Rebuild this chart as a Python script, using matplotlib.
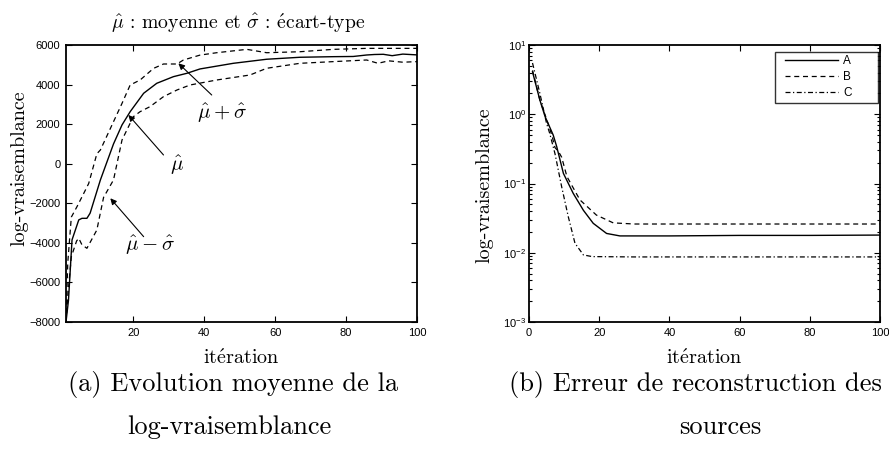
import numpy as np
import matplotlib
matplotlib.use("Agg")
import matplotlib.pyplot as plt
from matplotlib.ticker import LogLocator, NullFormatter, FixedLocator
from matplotlib.legend_handler import HandlerLine2D

plt.rcParams['font.family'] = ['Liberation Sans', 'DejaVu Sans']
plt.rcParams['mathtext.fontset'] = 'cm'
plt.rcParams['mathtext.rm'] = 'Liberation Sans'
plt.rcParams['mathtext.it'] = 'Liberation Sans:italic'
plt.rcParams['mathtext.bf'] = 'Liberation Sans:bold'
plt.rcParams['axes.unicode_minus'] = True

# ---------------- data: (a) mean log-likelihood ----------------
it_mu = [1, 1.7, 2.7, 4.6, 5.5, 6.9, 7.8, 10.7, 14.4, 16.8, 19.1, 22.9, 26.6,
         31.3, 35.1, 38.8, 48.2, 57.6, 67, 76.4, 82, 85.8, 88, 90.5, 93, 96, 100]
mu = [-8000, -6900, -3850, -2840, -2760, -2760, -2500, -820, 1000, 1960, 2630,
      3560, 4065, 4400, 4570, 4790, 5075, 5280, 5380, 5410, 5420, 5495, 5520,
      5530, 5460, 5540, 5500]

it_up = [1, 1.5, 2.5, 4.1, 6, 7.4, 9.7, 10.7, 16.8, 19.1, 21.9, 25.7, 28.5,
         32.3, 34.1, 38.8, 43.5, 52, 57.6, 67, 76.4, 85.8, 100]
up = [-8000, -5000, -2700, -2170, -1500, -1000, 500, 695, 3050, 3980, 4230,
      4820, 5040, 5040, 5240, 5490, 5610, 5780, 5610, 5660, 5780, 5830, 5830]

it_lo = [1, 1.6, 2.5, 4.0, 4.6, 5.5, 6.9, 9.7, 11.6, 14.4, 16.8, 20, 21.9,
         24.7, 28.5, 32.3, 36, 43.5, 52.9, 57.6, 67, 76.4, 85.8, 89, 92, 96, 100]
lo = [-8000, -6500, -4700, -3900, -3770, -4100, -4275, -3350, -1700, -820,
      1200, 2377, 2630, 2885, 3390, 3726, 3979, 4231, 4484, 4823, 5075, 5160,
      5242, 5075, 5200, 5130, 5160]

yticks_a = [-8000, -6000, -4000, -2000, 0, 2000, 4000, 6000]
xticks_a = [20, 40, 60, 80, 100]

# ---------------- data: (b) reconstruction error ----------------
it_A = [1, 3.1, 4.6, 6.9, 7.9, 9.8, 12.6, 15.5, 18.3, 22.1, 25.9, 40, 60, 80, 100]
err_A = [4.1, 1.6, 0.92, 0.5, 0.34, 0.14, 0.072, 0.041, 0.0266, 0.019, 0.0175,
         0.0175, 0.0178, 0.0178, 0.018]

it_B = [1, 3.1, 5, 6.5, 7.4, 8.4, 9.3, 10.8, 14.5, 19.2, 24, 30, 60, 100]
err_B = [4.3, 1.6, 0.85, 0.5, 0.33, 0.29, 0.24, 0.126, 0.058, 0.035, 0.027,
         0.026, 0.026, 0.026]

it_C = [1, 3.1, 5, 5.9, 7.4, 9.3, 11.2, 13.1, 15.5, 18, 30, 60, 100]
err_C = [5.5, 2.0, 0.74, 0.53, 0.27, 0.09, 0.033, 0.0137, 0.0093, 0.0088,
         0.0087, 0.0087, 0.0087]

series_names = ['A', 'B', 'C']
xticks_b = [0, 20, 40, 60, 80, 100]
yticks_b = [1e-3, 1e-2, 1e-1, 1e0, 1e1]
ytick_labels_b = [r'$10^{-3}$', r'$10^{-2}$', r'$10^{-1}$', r'$10^{0}$', r'$10^{1}$']

# ---------------- figure ----------------
W, H = 889, 454
fig = plt.figure(figsize=(W / 100, H / 100), dpi=100)

def frac(x0, y0, x1, y1):
    return [x0 / W, 1 - y1 / H, (x1 - x0) / W, (y1 - y0) / H]

ax1 = fig.add_axes(frac(66, 45, 417, 322))
ax2 = fig.add_axes(frac(529, 45, 880, 322))

serif = 'cmr10'
tick_fs = 8
lab_fs = 14.5
ann_fs = 15

for ax in (ax1, ax2):
    for s in ax.spines.values():
        s.set_linewidth(1.3)
    ax.tick_params(which='both', direction='in', top=True, right=True,
                   labelsize=tick_fs, width=0.8)
    ax.tick_params(which='major', length=4, pad=4)
    ax.tick_params(which='minor', length=2)

# (a)
ax1.plot(it_mu, mu, 'k-', lw=1.0)
ax1.plot(it_up, up, 'k--', lw=0.9, dashes=(4, 3))
ax1.plot(it_lo, lo, 'k--', lw=0.9, dashes=(4, 3))
ax1.set_xlim(1, 100)
ax1.set_ylim(-8000, 6000)
ax1.set_xticks(xticks_a)
ax1.set_yticks(yticks_a)

arrow = dict(arrowstyle='-|>', lw=0.8, color='k', mutation_scale=9,
             shrinkA=0, shrinkB=0)
ax1.annotate('', xy=(32.7, 5075), xytext=(42.1, 3473), arrowprops=arrow)
ax1.annotate('', xy=(18.6, 2463), xytext=(28.5, 442), arrowprops=arrow)
ax1.annotate('', xy=(13.5, -1747), xytext=(22.9, -3687), arrowprops=arrow)
ax1.text(44.9, 2564, r'$\hat{\mu}+\hat{\sigma}$', fontsize=ann_fs,
         ha='center', va='center')
ax1.text(32.3, -64, r'$\hat{\mu}$', fontsize=ann_fs, ha='center', va='center')
ax1.text(24.7, -4106, r'$\hat{\mu}-\hat{\sigma}$', fontsize=ann_fs,
         ha='center', va='center')

# (b)
lA, = ax2.semilogy(it_A, err_A, 'k-', lw=1.0, label=series_names[0])
lB, = ax2.semilogy(it_B, err_B, 'k--', lw=0.9, dashes=(4, 3), label=series_names[1])
lC, = ax2.semilogy(it_C, err_C, 'k-.', lw=0.9, dashes=(4, 2, 1, 2), label=series_names[2])
ax2.set_xlim(0, 100)
ax2.set_ylim(1e-3, 1e1)
ax2.set_xticks(xticks_b)
ax2.yaxis.set_major_locator(FixedLocator(yticks_b))
ax2.set_yticklabels(ytick_labels_b)
ax2.yaxis.set_minor_locator(LogLocator(base=10, subs=np.arange(2, 10), numticks=20))
ax2.yaxis.set_minor_formatter(NullFormatter())
for t in ax2.yaxis.get_major_ticks():
    t.label1.set_math_fontfamily('custom')
ax2.tick_params(axis='y', which='major', pad=2)


class ShiftedLine(HandlerLine2D):
    """Line handle drawn with an extra blank gap on its left."""
    def __init__(self, shift, **kw):
        super().__init__(**kw)
        self.shift = shift

    def create_artists(self, legend, orig_handle, xdescent, ydescent, width,
                       height, fontsize, trans):
        s = self.shift * fontsize
        return super().create_artists(legend, orig_handle, xdescent - s,
                                      ydescent, width - s, height, fontsize,
                                      trans)


leg_fs = 8.5
hm = {h: ShiftedLine(0.55) for h in (lA, lB, lC)}
leg = ax2.legend(handles=[lA, lB, lC], loc='upper left', fontsize=leg_fs,
                 frameon=True, fancybox=False, edgecolor='k',
                 handlelength=5.05, borderpad=0.3, labelspacing=0.32,
                 handletextpad=0.4, borderaxespad=0, mode='expand',
                 bbox_to_anchor=(0.701, 0.0, 0.293, 0.975),
                 handler_map=hm)
leg.get_frame().set_linewidth(1.0)

# axis labels & texts
fig.text(238 / W, 1 - 23 / H,
         r'$\hat{\mu}$ : moyenne et $\hat{\sigma}$ : $\acute{\mathrm{e}}$cart-type',
         family=serif, fontsize=14.2, ha='center', va='center')
fig.text(241 / W, 1 - 358 / H, r'it$\acute{\mathrm{e}}$ration', family=serif,
         fontsize=lab_fs, ha='center', va='center')
fig.text(704 / W, 1 - 358 / H, r'it$\acute{\mathrm{e}}$ration', family=serif,
         fontsize=lab_fs, ha='center', va='center')
fig.text(19 / W, 1 - 168 / H, 'log-vraisemblance', family=serif,
         fontsize=lab_fs, ha='center', va='center', rotation=90)
fig.text(484 / W, 1 - 185 / H, 'log-vraisemblance', family=serif,
         fontsize=lab_fs, ha='center', va='center', rotation=90)

cap_fs = 19
fig.text(233 / W, 1 - 385 / H, '(a) Evolution moyenne de la', family=serif,
         fontsize=cap_fs, ha='center', va='center')
fig.text(229 / W, 1 - 427 / H, 'log-vraisemblance', family=serif,
         fontsize=cap_fs, ha='center', va='center')
fig.text(695 / W, 1 - 385 / H, '(b) Erreur de reconstruction des', family=serif,
         fontsize=cap_fs, ha='center', va='center')
fig.text(720 / W, 1 - 427 / H, 'sources', family=serif,
         fontsize=cap_fs, ha='center', va='center')

fig.savefig('out.png', dpi=100)
